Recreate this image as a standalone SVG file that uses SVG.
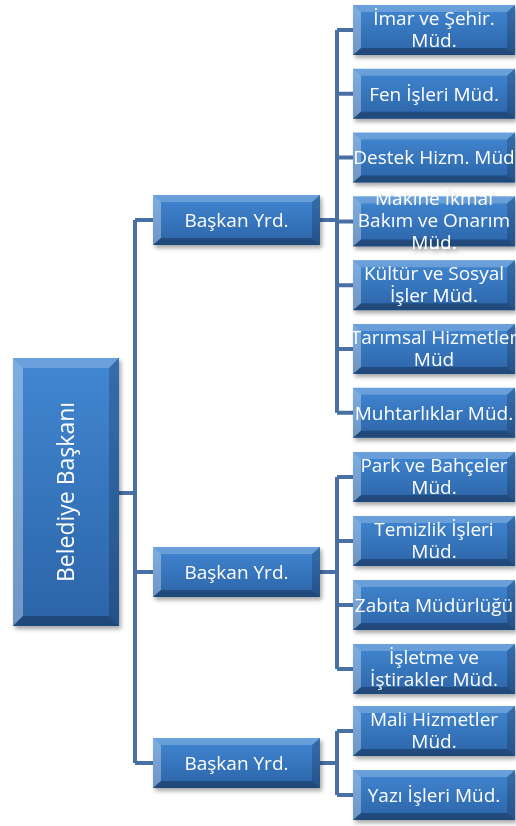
<svg xmlns="http://www.w3.org/2000/svg" xmlns:xlink="http://www.w3.org/1999/xlink" width="516" height="826" viewBox="0 0 516 826">
<style>
.t{font-family:"Open Sans","Noto Sans","DejaVu Sans",sans-serif;font-size:19px;fill:#ffffff;text-anchor:middle}
.r{font-size:23px}
.c{fill:none;stroke:#4870a5;stroke-width:4;stroke-linejoin:miter}
</style>
<defs>
<linearGradient id="face" x1="0" y1="0" x2="0" y2="1">
<stop offset="0" stop-color="#4187d2"/>
<stop offset="1" stop-color="#2c64a8"/>
</linearGradient>
<filter id="sh" x="-10%" y="-10%" width="130%" height="140%">
<feDropShadow dx="2" dy="3" stdDeviation="2" flood-color="#000" flood-opacity="0.35"/>
</filter>
<symbol id="box162" viewBox="0 0 162 50" overflow="visible">
<rect width="162" height="50" fill="url(#face)"/>
<polygon points="0,0 162,0 154,7 8,7" fill="#fff" fill-opacity="0.22"/>
<polygon points="0,0 8,7 8,43 0,50" fill="#fff" fill-opacity="0.32"/>
<polygon points="162,0 162,50 154,43 154,7" fill="#000" fill-opacity="0.18"/>
<polygon points="0,50 8,43 154,43 162,50" fill="#000" fill-opacity="0.28"/>
</symbol>
<symbol id="box167" viewBox="0 0 167 50" overflow="visible">
<rect width="167" height="50" fill="url(#face)"/>
<polygon points="0,0 167,0 159,7 8,7" fill="#fff" fill-opacity="0.22"/>
<polygon points="0,0 8,7 8,43 0,50" fill="#fff" fill-opacity="0.32"/>
<polygon points="167,0 167,50 159,43 159,7" fill="#000" fill-opacity="0.18"/>
<polygon points="0,50 8,43 159,43 167,50" fill="#000" fill-opacity="0.28"/>
</symbol>
</defs>
<rect width="516" height="826" fill="#ffffff"/>

<g id="connectors">
<path class="c" d="M119,493 H135 M135,220 V763 M135,220 H153 M135,572 H153 M135,763 H153"/>
<path class="c" d="M320,220 H337 M337,30 V412.8 M337,30 H353 M337,93.8 H353 M337,157.6 H353 M337,221.4 H353 M337,285.2 H353 M337,349 H353 M337,412.8 H353"/>
<path class="c" d="M320,572 H337 M337,477 V669 M337,477 H353 M337,541 H353 M337,605 H353 M337,669 H353"/>
<path class="c" d="M320,763 H337 M337,731 V795 M337,731 H353 M337,795 H353"/>
</g>

<g id="root" filter="url(#sh)">
<rect x="13" y="358" width="106" height="268" fill="url(#face)"/>
<polygon points="13,358 119,358 109,368 23,368" fill="#fff" fill-opacity="0.22"/>
<polygon points="13,358 23,368 23,616 13,626" fill="#fff" fill-opacity="0.32"/>
<polygon points="119,358 119,626 109,616 109,368" fill="#000" fill-opacity="0.18"/>
<polygon points="13,626 23,616 109,616 119,626" fill="#000" fill-opacity="0.28"/>
<text class="t r" x="66" y="500" transform="rotate(-90 66 492)">Belediye Başkanı</text>
</g>

<g id="yrd1" filter="url(#sh)"><use xlink:href="#box167" x="153" y="195" width="167" height="50"/><text class="t" x="236.5" y="226.5">Başkan Yrd.</text></g>
<g id="yrd2" filter="url(#sh)"><use xlink:href="#box167" x="153" y="547" width="167" height="50"/><text class="t" x="236.5" y="578.5">Başkan Yrd.</text></g>
<g id="yrd3" filter="url(#sh)"><use xlink:href="#box167" x="153" y="738" width="167" height="50"/><text class="t" x="236.5" y="769.5">Başkan Yrd.</text></g>

<g id="imar" filter="url(#sh)"><use xlink:href="#box162" x="353" y="5" width="162" height="50"/><text class="t" x="434" y="25">İmar ve Şehir.</text><text class="t" x="434" y="47">Müd.</text></g>
<g id="fen" filter="url(#sh)"><use xlink:href="#box162" x="353" y="68.8" width="162" height="50"/><text class="t" x="434" y="100.5">Fen İşleri Müd.</text></g>
<g id="destek" filter="url(#sh)"><use xlink:href="#box162" x="353" y="132.6" width="162" height="50"/><text class="t" x="434" y="164.3">Destek Hizm. Müd</text></g>
<g id="makine" filter="url(#sh)"><use xlink:href="#box162" x="353" y="196.4" width="162" height="50"/><text class="t" x="434" y="205.4">Makine İkmal</text><text class="t" x="434" y="227.4">Bakım ve Onarım</text><text class="t" x="434" y="249.4">Müd.</text></g>
<g id="kultur" filter="url(#sh)"><use xlink:href="#box162" x="353" y="260.2" width="162" height="50"/><text class="t" x="434" y="280.2">Kültür ve Sosyal</text><text class="t" x="434" y="302.2">İşler Müd.</text></g>
<g id="tarimsal" filter="url(#sh)"><use xlink:href="#box162" x="353" y="324" width="162" height="50"/><text class="t" x="434" y="344">Tarımsal Hizmetler</text><text class="t" x="434" y="366">Müd</text></g>
<g id="muhtarliklar" filter="url(#sh)"><use xlink:href="#box162" x="353" y="387.8" width="162" height="50"/><text class="t" x="434" y="419.5">Muhtarlıklar Müd.</text></g>

<g id="park" filter="url(#sh)"><use xlink:href="#box162" x="353" y="452" width="162" height="50"/><text class="t" x="434" y="472">Park ve Bahçeler</text><text class="t" x="434" y="494">Müd.</text></g>
<g id="temizlik" filter="url(#sh)"><use xlink:href="#box162" x="353" y="516" width="162" height="50"/><text class="t" x="434" y="536">Temizlik İşleri</text><text class="t" x="434" y="558">Müd.</text></g>
<g id="zabita" filter="url(#sh)"><use xlink:href="#box162" x="353" y="580" width="162" height="50"/><text class="t" x="434" y="611.7">Zabıta Müdürlüğü</text></g>
<g id="isletme" filter="url(#sh)"><use xlink:href="#box162" x="353" y="644" width="162" height="50"/><text class="t" x="434" y="664">İşletme ve</text><text class="t" x="434" y="686">İştirakler Müd.</text></g>

<g id="mali" filter="url(#sh)"><use xlink:href="#box162" x="353" y="706" width="162" height="50"/><text class="t" x="434" y="726">Mali Hizmetler</text><text class="t" x="434" y="748">Müd.</text></g>
<g id="yazi" filter="url(#sh)"><use xlink:href="#box162" x="353" y="770" width="162" height="50"/><text class="t" x="434" y="801.7">Yazı İşleri Müd.</text></g>
</svg>
